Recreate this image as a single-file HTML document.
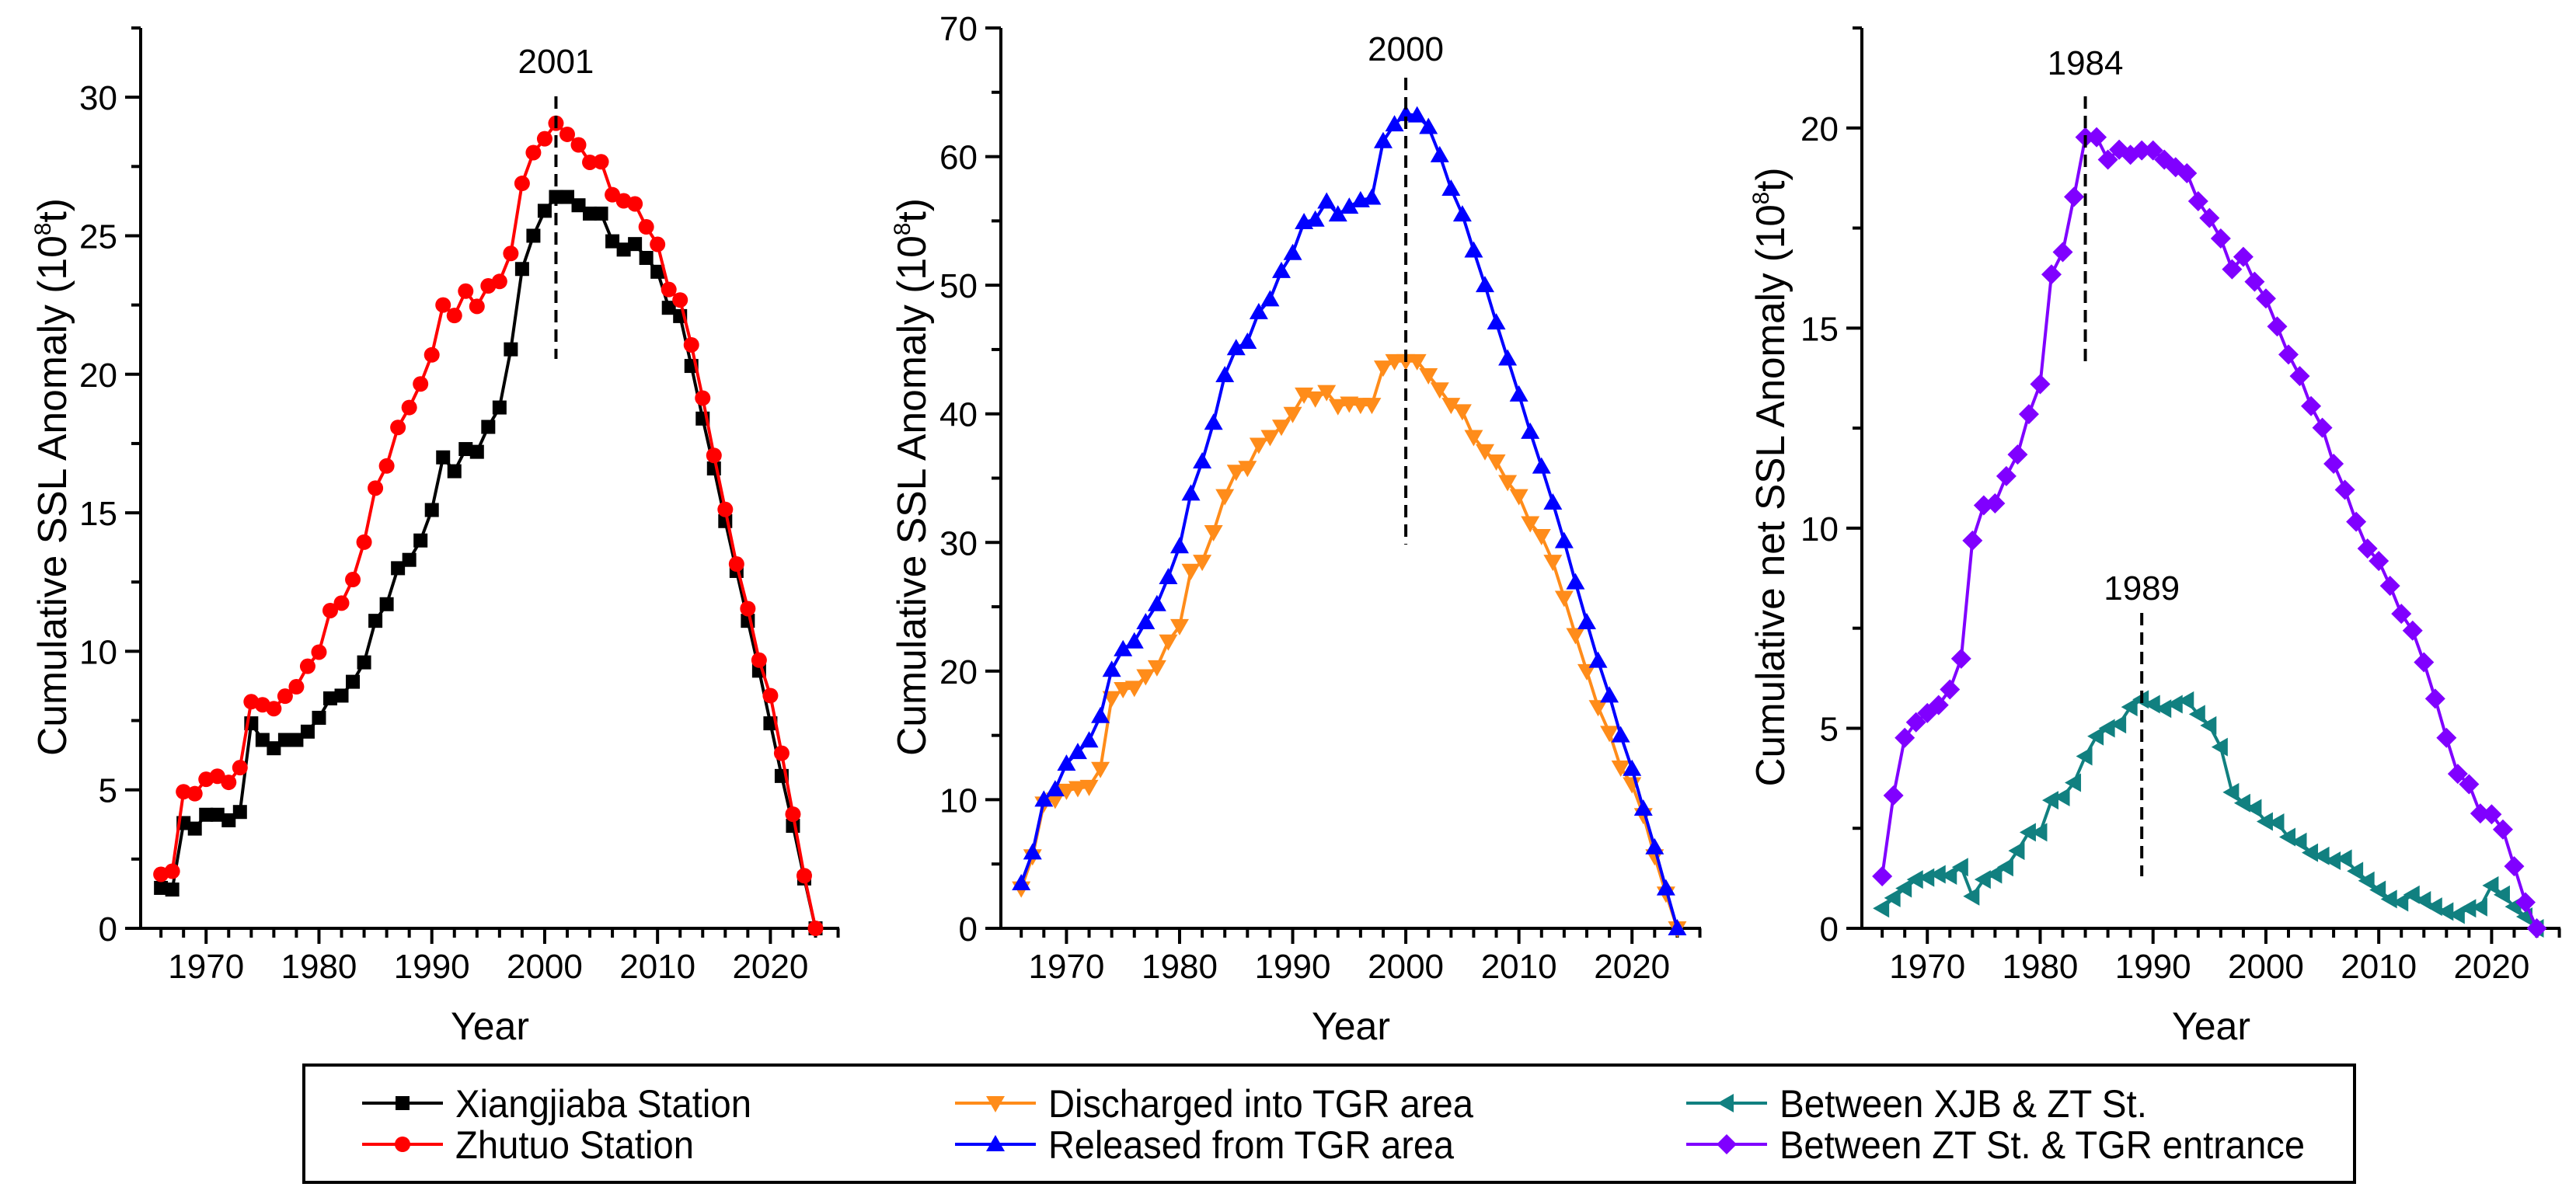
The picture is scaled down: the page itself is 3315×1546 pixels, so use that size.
<!DOCTYPE html>
<html><head><meta charset="utf-8"><style>
html,body{margin:0;padding:0;background:#fff;}
svg{display:block;font-family:"Liberation Sans",Arial,sans-serif;}
</style></head><body>
<svg id="fig" width="3315" height="1546" viewBox="0 0 3315 1546" xmlns="http://www.w3.org/2000/svg">
<rect width="3315" height="1546" fill="#fff"/>
<g id="plots"></g>
<g>
<rect x="391" y="1371" width="2639" height="151" fill="#fff" stroke="#000" stroke-width="4"/>
<g id="legend"></g>
</g>
</svg>
<script>
const years = [];
for (let y = 1966; y <= 2024; y++) years.push(y);
const xiangjiaba = [1.46,1.4,3.8,3.6,4.1,4.1,3.9,4.2,7.4,6.8,6.5,6.8,6.8,7.1,7.6,8.3,8.4,8.9,9.6,11.1,11.7,13.0,13.3,14.0,15.1,17.0,16.5,17.3,17.2,18.1,18.8,20.9,23.8,25.0,25.9,26.4,26.4,26.1,25.8,25.8,24.8,24.5,24.7,24.2,23.7,22.4,22.1,20.3,18.4,16.6,14.7,12.9,11.1,9.3,7.4,5.5,3.7,1.8,0];
const zhutuo = [1.95,2.06,4.93,4.86,5.38,5.49,5.27,5.8,8.18,8.07,7.93,8.38,8.72,9.46,9.97,11.47,11.74,12.59,13.94,15.89,16.69,18.08,18.8,19.65,20.7,22.5,22.12,23.0,22.45,23.19,23.35,24.36,26.89,28.0,28.5,29.06,28.66,28.28,27.65,27.67,26.48,26.26,26.15,25.32,24.69,23.06,22.68,21.06,19.14,17.07,15.12,13.15,11.54,9.68,8.4,6.32,4.12,1.9,0];
const discharged = [3.1,5.6,9.7,10.0,10.7,10.9,11.0,12.4,17.9,18.6,18.7,19.6,20.3,22.3,23.5,27.8,28.5,30.8,33.6,35.5,35.8,37.6,38.2,39.0,40.0,41.5,41.2,41.7,40.6,40.8,40.7,40.7,43.6,44.1,44.1,44.1,43.0,41.9,40.7,40.2,38.2,37.1,36.3,34.7,33.6,31.5,30.5,28.5,25.7,22.8,20.0,17.2,15.2,12.5,11.2,8.8,5.6,2.7,0];
const released = [3.5,5.9,10.0,10.8,12.8,13.7,14.6,16.5,20.1,21.7,22.3,23.8,25.2,27.3,29.7,33.8,36.3,39.3,43.0,45.1,45.6,47.9,48.9,51.1,52.5,54.9,55.1,56.5,55.5,56.1,56.6,56.8,61.2,62.5,63.3,63.2,62.3,60.1,57.5,55.5,52.7,50.0,47.1,44.3,41.5,38.6,35.9,33.1,30.1,26.9,23.8,20.8,18.1,15.0,12.4,9.3,6.3,3.1,0];
const xjbZt = [0.5,0.76,1.0,1.22,1.27,1.35,1.32,1.53,0.8,1.22,1.35,1.53,1.94,2.4,2.4,3.2,3.28,3.64,4.3,4.8,5.0,5.1,5.53,5.72,5.6,5.49,5.6,5.69,5.35,5.07,4.53,3.4,3.13,3.0,2.67,2.64,2.28,2.16,1.89,1.81,1.69,1.74,1.43,1.19,0.96,0.73,0.65,0.84,0.7,0.54,0.42,0.34,0.5,0.53,1.07,0.84,0.54,0.29,0];
const ztTgr = [1.3,3.32,4.76,5.15,5.38,5.58,5.97,6.74,9.69,10.57,10.62,11.3,11.84,12.85,13.6,16.34,16.9,18.28,19.77,19.77,19.21,19.46,19.33,19.44,19.44,19.21,19.02,18.87,18.17,17.75,17.24,16.47,16.78,16.16,15.74,15.04,14.34,13.8,13.05,12.51,11.61,10.96,10.16,9.49,9.18,8.56,7.86,7.44,6.65,5.74,4.76,3.86,3.6,2.87,2.85,2.47,1.55,0.65,0];
const xTicks = [1970,1980,1990,2000,2010,2020];
const yTicks1 = [0,5,10,15,20,25,30];
const yTicks2 = [0,10,20,30,40,50,60,70];
const yTicks3 = [0,5,10,15,20];

const NS = "http://www.w3.org/2000/svg";
function el(tag, attrs, parent, text){
  const e = document.createElementNS(NS, tag);
  for (const k in attrs) e.setAttribute(k, attrs[k]);
  if (text !== undefined) e.textContent = text;
  parent.appendChild(e);
  return e;
}
function marker(g, shape, cx, cy, color){
  let m;
  if (shape === 'square') m = el('rect',{x:cx-9,y:cy-9,width:18,height:18,fill:color},g);
  else if (shape === 'circle') m = el('circle',{cx:cx,cy:cy,r:10,fill:color},g);
  else if (shape === 'up') m = el('polygon',{points:`${cx},${cy-12} ${cx-12},${cy+9} ${cx+12},${cy+9}`,fill:color},g);
  else if (shape === 'down') m = el('polygon',{points:`${cx},${cy+12} ${cx-12},${cy-9} ${cx+12},${cy-9}`,fill:color},g);
  else if (shape === 'left') m = el('polygon',{points:`${cx-12},${cy} ${cx+9},${cy-12} ${cx+9},${cy+12}`,fill:color},g);
  else m = el('polygon',{points:`${cx},${cy-13} ${cx+13},${cy} ${cx},${cy+13} ${cx-13},${cy}`,fill:color},g);
  return m;
}
const root = document.getElementById('plots');
const panels = [
  {name:'panel-stations', ax:181, right:1080, ymax:32.5, ticks:yTicks1, minor:2.5, title:'Cumulative SSL Anomaly (10', titleX:67, titleLen:718,
   series:[{name:'series-xiangjiaba',data:xiangjiaba,color:'#000',shape:'square'},{name:'series-zhutuo',data:zhutuo,color:'#ff0000',shape:'circle'}],
   ann:[{label:'2001',year:2001,ty:94,y1:124,y2:462}]},
  {name:'panel-tgr', ax:1288, right:2189, ymax:70, ticks:yTicks2, minor:5, title:'Cumulative SSL Anomaly (10', titleX:1173, titleLen:718,
   series:[{name:'series-discharged',data:discharged,color:'#ff8c1a',shape:'down'},{name:'series-released',data:released,color:'#0000ff',shape:'up'}],
   ann:[{label:'2000',year:2000,ty:78,y1:100,y2:701}]},
  {name:'panel-net', ax:2396, right:3295, ymax:22.5, ticks:yTicks3, minor:2.5, title:'Cumulative net SSL Anomaly (10', titleX:2278, titleLen:797,
   series:[{name:'series-xjb-zt',data:xjbZt,color:'#118080',shape:'left'},{name:'series-zt-tgr',data:ztTgr,color:'#8000ff',shape:'diamond'}],
   ann:[{label:'1984',year:1984,ty:96,y1:124,y2:466},{label:'1989',year:1989,ty:772,y1:789,y2:1128}]}
];
const plotTop = 36, plotBottom = 1195, xMin = 1964.2, xMax = 2026.1;
panels.forEach(p=>{
  const g = el('g',{},root);
  
  
  const xs = v => p.ax + (v - xMin) / (xMax - xMin) * (p.right - p.ax);
  const ys = v => plotBottom - v / p.ymax * (plotBottom - plotTop);
  const axes = el('g',{stroke:'#000','stroke-width':4,fill:'none'},g);
  
  
  el('line',{x1:p.ax,y1:plotTop,x2:p.ax,y2:plotBottom+2},axes);
  el('line',{x1:p.ax-2,y1:plotBottom,x2:p.right,y2:plotBottom},axes);
  for (let yr = 1966; yr <= 2026; yr += 2){
    const major = yr % 10 === 0;
    el('line',{x1:xs(yr),y1:plotBottom,x2:xs(yr),y2:plotBottom+(major?20:12)},axes);
  }
  for (let v = 0; v <= p.ymax + 0.001; v += p.minor){
    const major = p.ticks.indexOf(v) >= 0;
    el('line',{x1:p.ax,y1:ys(v),x2:p.ax-(major?20:12),y2:ys(v)},axes);
  }
  xTicks.forEach(t=>{
    const tl = el('text',{x:xs(t),y:1259,'font-size':44,'text-anchor':'middle',fill:'#000'},g,String(t));
    
    
  });
  p.ticks.forEach(t=>{
    const tl = el('text',{x:p.ax-30,y:ys(t)+16,'font-size':44,'text-anchor':'end',fill:'#000'},g,String(t));
    
    
  });
  const xt = el('text',{x:(p.ax+p.right)/2,y:1338,'font-size':50,'text-anchor':'middle',fill:'#000'},g,'Year');
  
  
  const yt = el('text',{x:0,y:0,'font-size':52,'text-anchor':'middle',fill:'#000',textLength:p.titleLen,lengthAdjust:'spacingAndGlyphs',transform:`translate(${p.titleX+18},614) rotate(-90)`},g,p.title);
  
  
  el('tspan',{'font-size':30,dy:-20},yt,'8');
  el('tspan',{dy:20},yt,'t)');
  p.series.forEach(s=>{
    const sg = el('g',{},g);
    
    
    const n = Math.min(years.length, s.data.length);
    const pts = [];
    for (let i = 0; i < n; i++) pts.push(xs(years[i]).toFixed(1)+','+ys(s.data[i]).toFixed(1));
    el('polyline',{points:pts.join(' '),fill:'none',stroke:s.color,'stroke-width':4,'stroke-linejoin':'round'},sg);
    for (let i = 0; i < n; i++){
      const m = marker(sg, s.shape, xs(years[i]), ys(s.data[i]), s.color);
      
      
    }
  });
  p.ann.forEach(a=>{
    const ag = el('g',{},g);
    
    
    el('line',{x1:xs(a.year),y1:a.y1,x2:xs(a.year),y2:a.y2,stroke:'#000','stroke-width':4,'stroke-dasharray':'16,9'},ag);
    el('text',{x:xs(a.year),y:a.ty,'font-size':44,'text-anchor':'middle',fill:'#000'},ag,a.label);
  });
});
const legendItems = [
  {label:'Xiangjiaba Station',color:'#000',shape:'square',x:518,y:1420,len:381},
  {label:'Zhutuo Station',color:'#ff0000',shape:'circle',x:518,y:1473,len:307},
  {label:'Discharged into TGR area',color:'#ff8c1a',shape:'down',x:1281,y:1420,len:547},
  {label:'Released from TGR area',color:'#0000ff',shape:'up',x:1281,y:1473,len:522},
  {label:'Between XJB & ZT St.',color:'#118080',shape:'left',x:2222,y:1420,len:473},
  {label:'Between ZT St. & TGR entrance',color:'#8000ff',shape:'diamond',x:2222,y:1473,len:676}
];
const lg = document.getElementById('legend');
legendItems.forEach(it=>{
  const g = el('g',{},lg);
  
  
  el('line',{x1:it.x-52,y1:it.y,x2:it.x+52,y2:it.y,stroke:it.color,'stroke-width':4},g);
  marker(g, it.shape, it.x, it.y, it.color);
  el('text',{x:it.x+68,y:it.y+18,'font-size':50,fill:'#000',textLength:it.len,lengthAdjust:'spacingAndGlyphs'},g,it.label);
});
</script>
</body></html>
